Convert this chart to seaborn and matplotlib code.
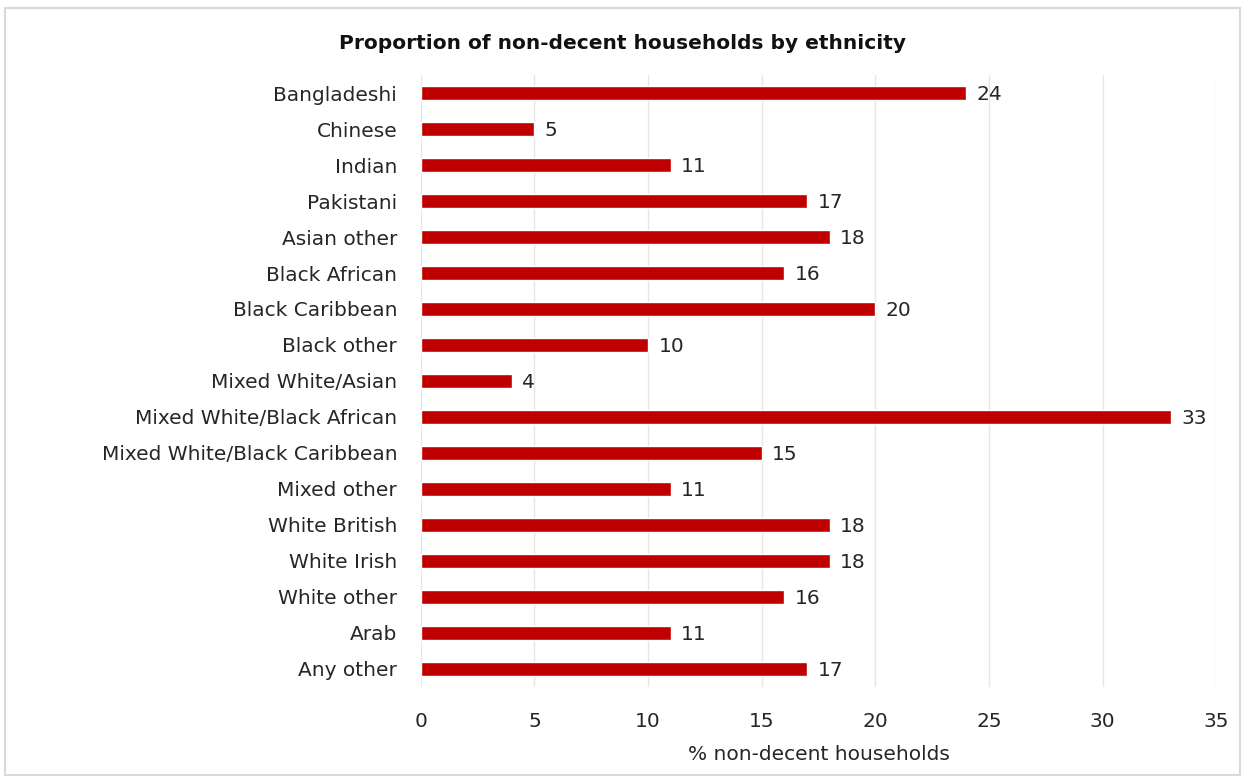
import matplotlib
matplotlib.use("Agg")
import matplotlib.pyplot as plt
import seaborn as sns
import pandas as pd
from matplotlib.patches import Rectangle

categories = ["Bangladeshi", "Chinese", "Indian", "Pakistani", "Asian other",
              "Black African", "Black Caribbean", "Black other", "Mixed White/Asian",
              "Mixed White/Black African", "Mixed White/Black Caribbean", "Mixed other",
              "White British", "White Irish", "White other", "Arab", "Any other"]
values = [24, 5, 11, 17, 18, 16, 20, 10, 4, 33, 15, 11, 18, 18, 16, 11, 17]
xticks = [0, 5, 10, 15, 20, 25, 30, 35]

df = pd.DataFrame({"cat": categories, "val": values})

sns.set_theme(style="white")
plt.rcParams['font.family'] = ['DejaVu Sans']

fig = plt.figure(figsize=(12.45, 7.83), dpi=100)
ax = fig.add_axes([0.338, 0.123, 0.977 - 0.338, 0.904 - 0.123])

sns.barplot(data=df, x="val", y="cat", color="#C00000", width=0.38, ax=ax,
            saturation=1, orient="h")

for i, v in enumerate(values):
    ax.text(v + 0.45, i + 0.05, str(v), va="center", ha="left", fontsize=14.5, color="#262626")

ax.set_xlim(0, 35)
ax.set_xticks(xticks)
ax.set_xticklabels([str(t) for t in xticks], fontsize=14.5, color="#262626")
ax.tick_params(axis="y", labelsize=14.5, labelcolor="#262626", length=0, pad=17)
ax.tick_params(axis="x", length=0, pad=18)
ax.set_ylabel("")
ax.set_xlabel("% non-decent households", fontsize=14.5, color="#262626", labelpad=10)
ax.grid(axis="x", color="#e6e6e6", linewidth=1)
ax.set_axisbelow(True)
for s in ax.spines.values():
    s.set_visible(False)

fig.text(0.5, 0.945, "Proportion of non-decent households by ethnicity",
         ha="center", va="center", fontsize=14.5, fontweight="bold", color="#111111")

fig.patches.append(Rectangle((0.004, 0.01), 0.992, 0.98, transform=fig.transFigure,
                             fill=False, edgecolor="#d9d9d9", linewidth=1.5))

fig.savefig("out.png", dpi=100)
